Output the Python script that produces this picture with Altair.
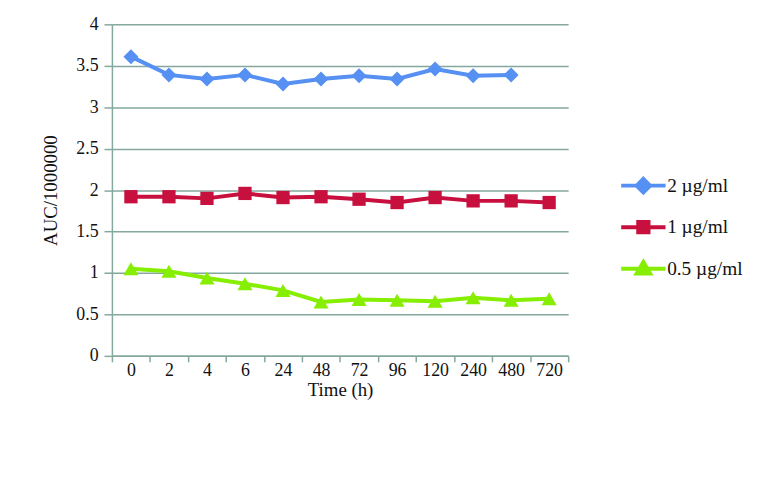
import altair as alt
import pandas as pd

times = ["0", "2", "4", "6", "24", "48", "72", "96", "120", "240", "480", "720"]
s2 = [3.61, 3.39, 3.34, 3.39, 3.28, 3.34, 3.38, 3.34, 3.46, 3.38, 3.39, None]
s1 = [1.92, 1.92, 1.90, 1.96, 1.91, 1.92, 1.89, 1.85, 1.91, 1.87, 1.87, 1.85]
s05 = [1.05, 1.02, 0.94, 0.87, 0.79, 0.65, 0.68, 0.67, 0.66, 0.70, 0.67, 0.69]
series = ["2 µg/ml", "1 µg/ml", "0.5 µg/ml"]
colors = ["#5590F2", "#C8103F", "#86EE00"]
shapes = ["diamond", "square", "triangle-up"]
sizes = [230, 180, 230]

rows = []
for name, vals in zip(series, [s2, s1, s05]):
    for t, v in zip(times, vals):
        if v is not None:
            rows.append({"time": t, "auc": v, "series": name})
df = pd.DataFrame(rows)

FONT = "Liberation Serif"
GRID = "#84A89E"

line_h = "M-2.8,0H2.8"
legend_paths = [
    line_h + "M0,-0.85L0.85,0L0,0.85L-0.85,0Z",
    line_h + "M-0.65,-0.65H0.65V0.65H-0.65Z",
    line_h + "M0,-0.85L0.85,0.6H-0.85Z",
]

x_enc = alt.X("time:N", sort=times,
              scale=alt.Scale(type="band", paddingInner=0, paddingOuter=0),
              axis=alt.Axis(title="Time (h)", labelAngle=0, tickBand="extent",
                            domainColor=GRID, tickColor=GRID, domainWidth=1.5,
                            tickWidth=1.5, tickSize=6, grid=False,
                            labelPadding=0, titlePadding=1))
y_enc = alt.Y("auc:Q", scale=alt.Scale(domain=[0, 4]),
              axis=alt.Axis(title="AUC/1000000", values=[0, 0.5, 1, 1.5, 2, 2.5, 3, 3.5, 4],
                            format="~g", grid=True, gridColor=GRID, gridWidth=1.5,
                            domainColor=GRID, tickColor=GRID, domainWidth=1.5,
                            tickWidth=1.5, tickSize=8, labelPadding=6, titlePadding=15))
# colour scale for the data marks: data-driven domain (sorted), no legend
color_enc = alt.Color("series:N", sort=series, scale=alt.Scale(range=colors), legend=None)

leg = dict(title=None, orient="none", legendX=527, legendY=153,
           symbolSize=256, rowPadding=13, labelOffset=14, symbolOpacity=1,
           symbolStrokeWidth=4, labelFontSize=19.5, labelFont=FONT, labelColor="#111")

base = alt.Chart(df)
lines = base.mark_line(strokeWidth=4).encode(x=x_enc, y=y_enc, color=color_enc, detail="series:N")
pt_layers = []
for name, shp, sz in zip(series, shapes, sizes):
    pt_layers.append(
        base.transform_filter(alt.datum.series == name)
        .mark_point(filled=True, opacity=1, size=sz, shape=shp)
        .encode(x=x_enc, y=y_enc, color=color_enc)
    )

legend_layer = base.mark_point(size=0, strokeWidth=0).encode(
    x=x_enc, y=y_enc,
    fill=alt.Fill("series:N", scale=alt.Scale(domain=series, range=colors), legend=alt.Legend(**leg)),
    stroke=alt.Stroke("series:N", scale=alt.Scale(domain=series, range=colors), legend=alt.Legend(**leg)),
    shape=alt.Shape("series:N", scale=alt.Scale(domain=series, range=legend_paths), legend=alt.Legend(**leg)),
)

chart = alt.layer(lines, *pt_layers, legend_layer).properties(
    width=461, height=335, autosize="none", background="white",
    padding={"left": 105, "top": 14, "right": 209, "bottom": 130}
).configure_axis(
    labelFont=FONT, titleFont=FONT, labelFontSize=18, titleFontSize=19,
    labelColor="#111", titleColor="#111", titleFontWeight="normal"
).configure_view(stroke=None)

chart.save("out.html", embed_options={"renderer": "svg", "actions": False})
